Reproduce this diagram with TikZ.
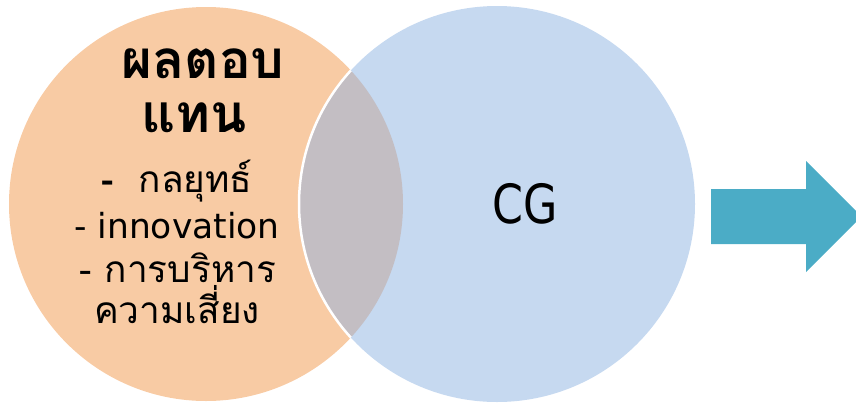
\documentclass[tikz,border=0pt]{standalone}
\usepackage{fontspec}
\setmainfont{DejaVu Sans}
\newfontfamily\thaifont[Script=Thai]{Loma}
\definecolor{orangeC}{HTML}{F8CBA4}
\definecolor{blueC}{HTML}{C6D9F0}
\definecolor{grayC}{HTML}{C3BEC3}
\definecolor{arrowC}{HTML}{4BACC6}
\tikzset{
  headtxt/.style={anchor=base, inner sep=0pt, font=\thaifont\bfseries\fontsize{53}{58}\selectfont},
  itemtxt/.style={anchor=base, inner sep=0pt, font=\thaifont\fontsize{37}{42}\selectfont},
  lattxt/.style={anchor=base, inner sep=0pt, font=\fontsize{34.5}{40}\selectfont}
}
\begin{document}
\begin{tikzpicture}[x=1pt,y=-1pt]
\useasboundingbox (0,0) rectangle (856,402);
% circles
\fill[orangeC] (206,204) circle (197);
\fill[blueC] (497,204) circle (198);
\begin{scope}
  \clip (206,204) circle (197);
  \fill[grayC] (497,204) circle (198);
  \draw[white, line width=2.5pt] (497,204) circle (198);
\end{scope}
% arrow
\fill[arrowC] (711,189) -- (806,189) -- (806,161) -- (861.5,216.5) -- (806,272) -- (806,244) -- (711,244) -- cycle;
% texts
\node[headtxt] (h1) at (203,78) {ผลตอบ};
\node[headtxt] (h2) at (194,132) {แทน};
\node[itemtxt] (l1) at (177,192) {{\bfseries -}\ \ กลยุทธ์};
\node[lattxt] (l2) at (177,238) {- innovation};
\node[itemtxt] (l3) at (178,282) {- การบริหาร};
\node[itemtxt] (l4) at (177,323) {ความเสี่ยง};
\node[anchor=base, inner sep=0pt, font=\fontsize{54}{60}\selectfont] (cg) at (525,223) {\scalebox{0.82}[1]{CG}};
\end{tikzpicture}
\end{document}
